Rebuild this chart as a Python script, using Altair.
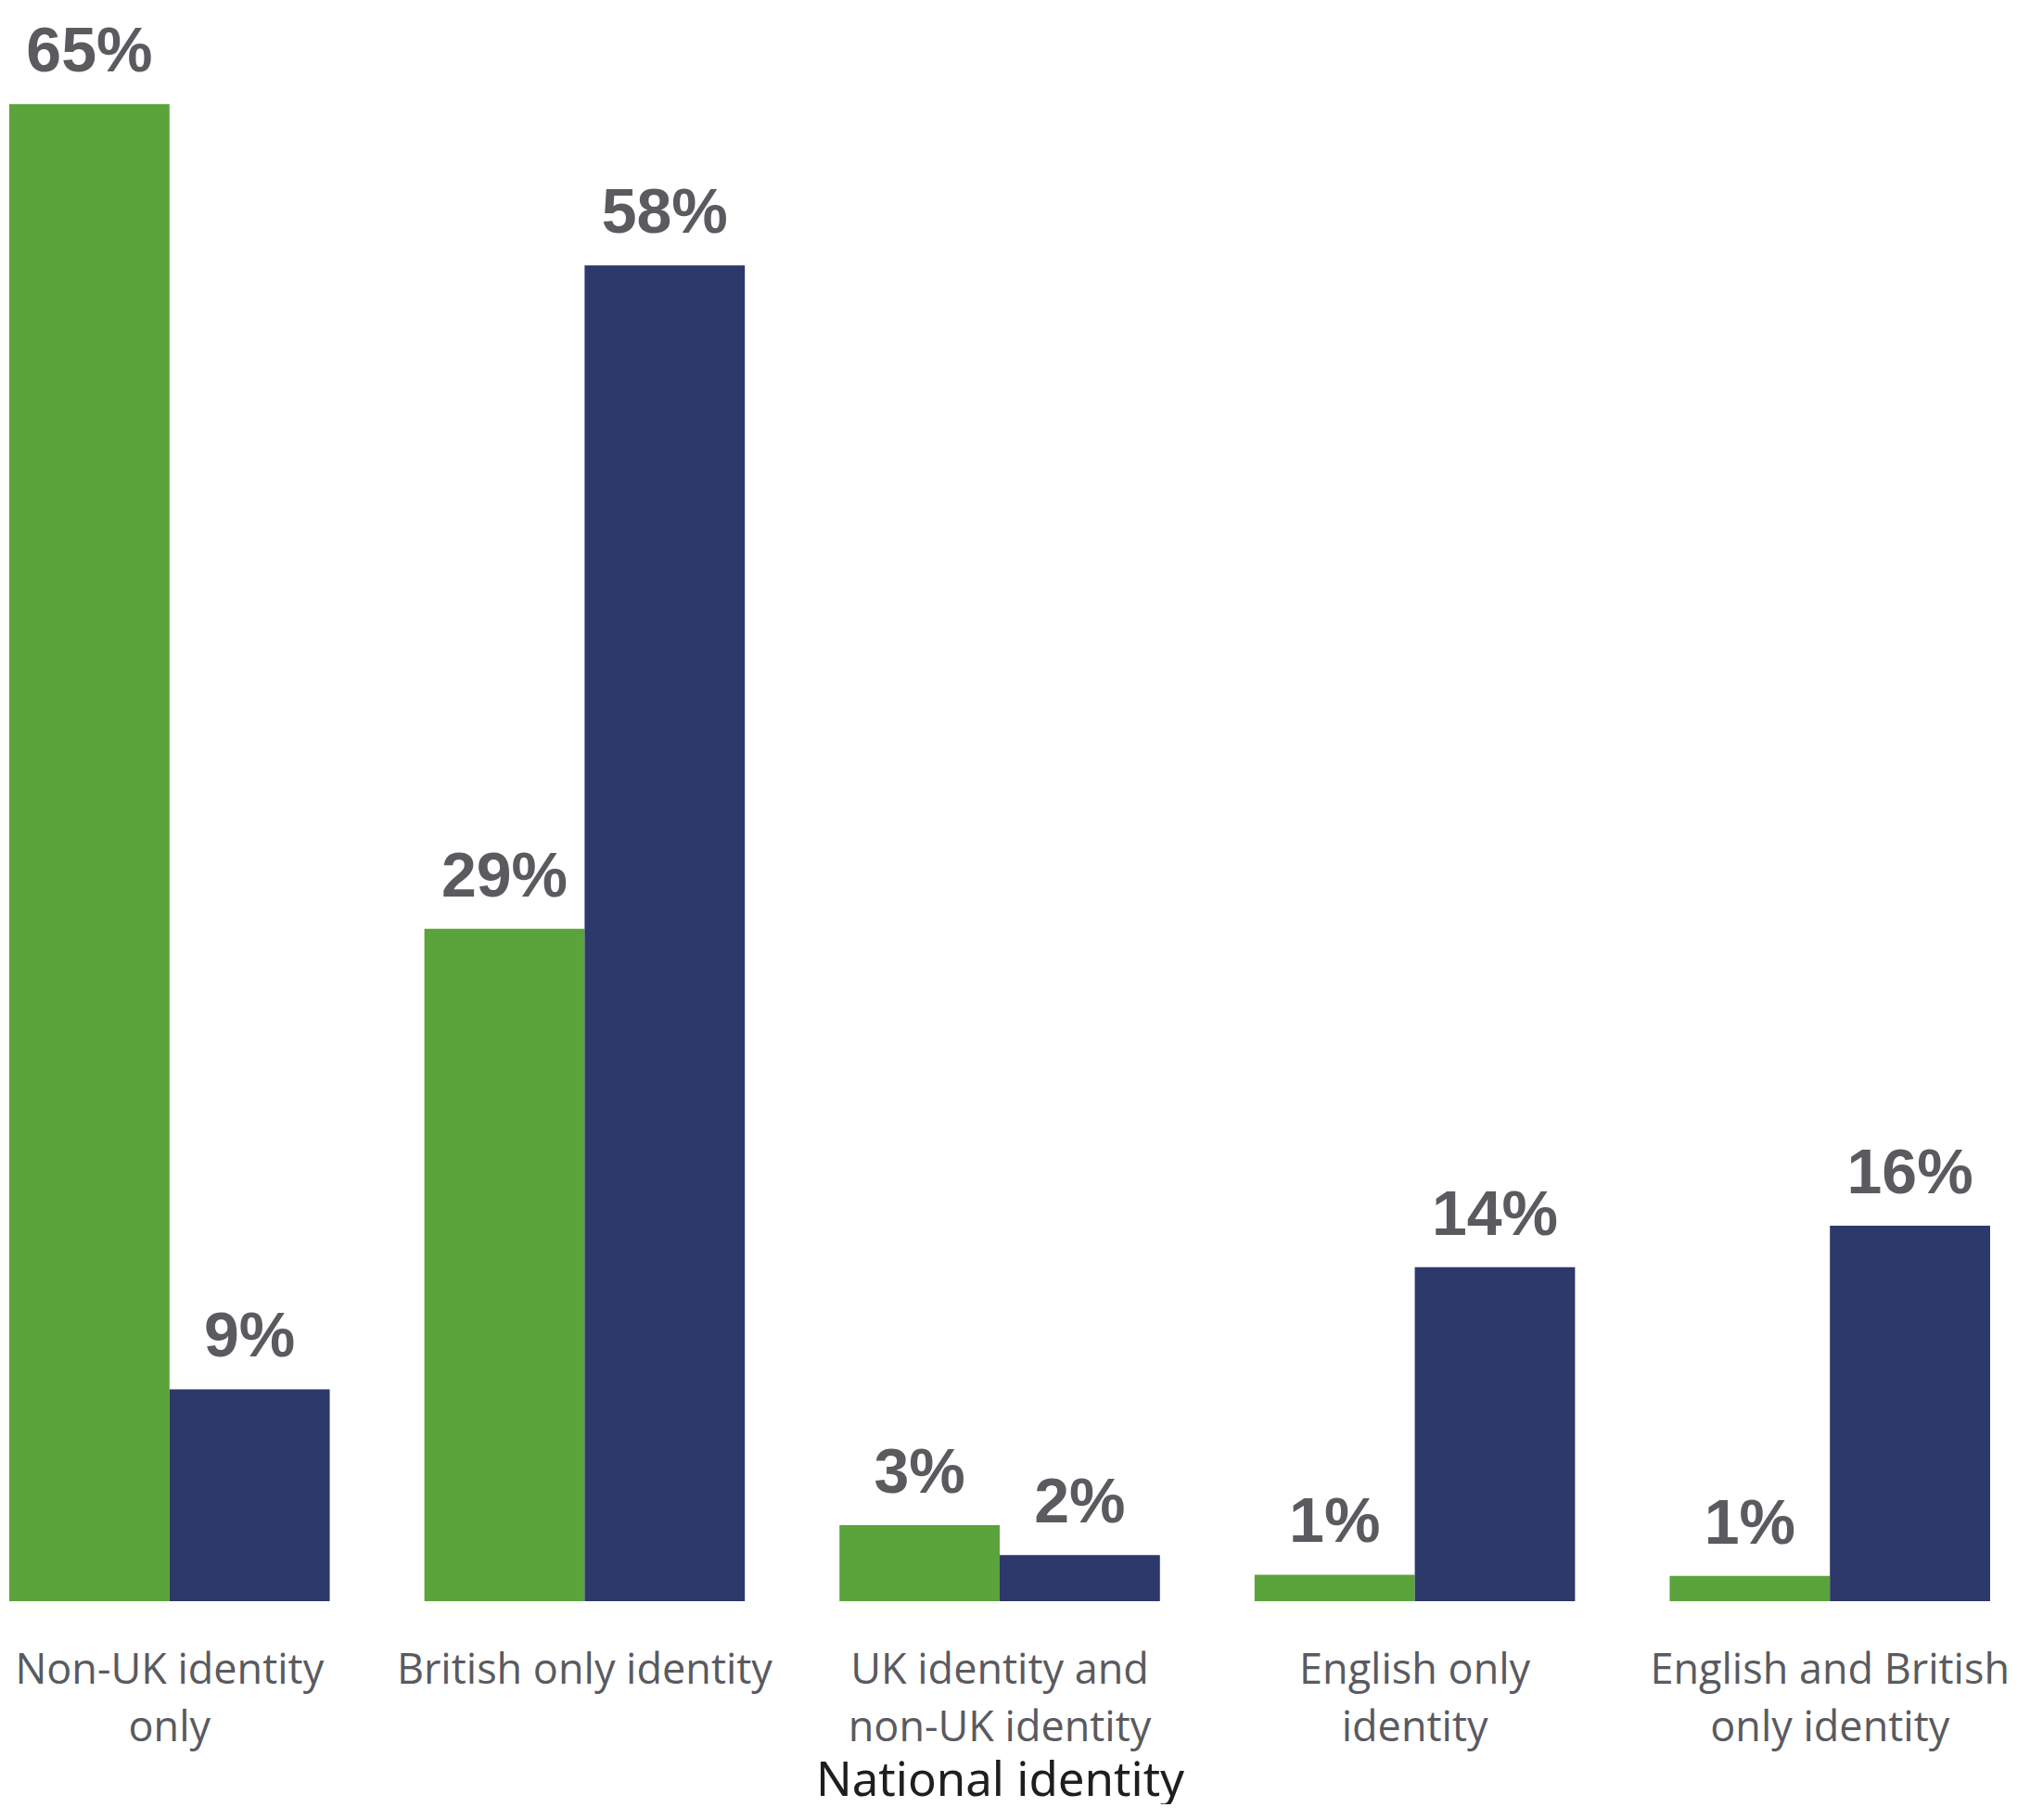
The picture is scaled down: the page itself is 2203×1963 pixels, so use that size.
import altair as alt
import pandas as pd

categories = ["Non-UK identity|only", "British only identity", "UK identity and|non-UK identity",
              "English only|identity", "English and British|only identity"]
series = ["Group A", "Group B"]
values_a = [65.0, 29.2, 3.3, 1.15, 1.1]
values_b = [9.2, 58.0, 2.0, 14.5, 16.3]
labels_a = ["65%", "29%", "3%", "1%", "1%"]
labels_b = ["9%", "58%", "2%", "14%", "16%"]

rows = []
for i, c in enumerate(categories):
    rows.append({"cat": c, "series": series[0], "value": values_a[i], "label": labels_a[i]})
    rows.append({"cat": c, "series": series[1], "value": values_b[i], "label": labels_b[i]})
df = pd.DataFrame(rows)

x = alt.X("cat:N", sort=categories,
          scale=alt.Scale(paddingInner=0.228, paddingOuter=0.0045),
          axis=alt.Axis(title="National identity", labelAngle=0, ticks=False, domain=False,
                        labelExpr="split(datum.label, '|')", labelLineHeight=62, labelLimit=0,
                        labelFont="Open Sans", labelFontSize=45, labelColor="#5a5a5f",
                        labelPadding=52, labelBaseline="top",
                        titleFont="Noto Sans", titleFontSize=51, titleFontWeight="normal",
                        titleColor="#1e1e1e", titlePadding=10))
y = alt.Y("value:Q", scale=alt.Scale(domain=[0, 69.2], nice=False, zero=True), axis=None)
xo = alt.XOffset("series:N", sort=series, scale=alt.Scale(paddingInner=0, paddingOuter=0))

bars = alt.Chart(df).mark_bar().encode(
    x=x, y=y, xOffset=xo,
    color=alt.Color("series:N", sort=series,
                    scale=alt.Scale(domain=series, range=["#5ba33b", "#2d386b"]), legend=None),
)
text = alt.Chart(df).mark_text(font="Liberation Sans", fontWeight="bold", fontSize=68,
                               color="#5a5a5f", baseline="alphabetic", dy=-35).encode(
    x=x, y=y, xOffset=xo, text="label:N"
)

chart = (alt.layer(bars, text)
         .properties(width=2140, height=1719, padding=0)
         .configure_view(stroke=None))
chart.save("out.html", embed_options={"renderer": "svg", "actions": False})
